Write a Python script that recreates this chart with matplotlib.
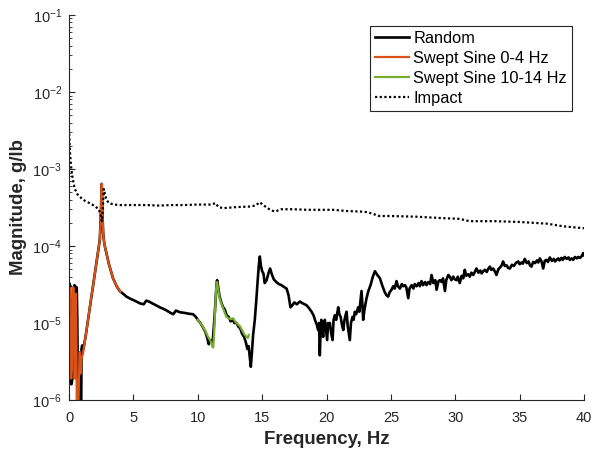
import matplotlib
matplotlib.use('Agg')
import matplotlib.pyplot as plt

plt.rcParams['font.family'] = ['Liberation Sans', 'DejaVu Sans']
plt.rcParams['mathtext.default'] = 'regular'

# Random excitation FRF
random_freq = [0.00, 0.02, 0.05, 0.08, 0.11, 0.14, 0.18, 0.22, 0.26, 0.30, 0.34, 0.38, 0.42, 0.46, 0.50,
               0.55, 0.60, 0.64, 0.68, 0.72, 0.76, 0.80, 0.88, 0.94, 0.97, 1.02, 1.08, 1.12,
               1.3, 1.5, 1.7, 1.9, 2.1, 2.3, 2.39, 2.46, 2.51, 2.54, 2.57, 2.61, 2.66, 2.75, 2.9, 3.1,
               3.42, 3.7, 3.94, 4.2, 4.46, 4.8, 5.1, 5.5, 5.8, 6.0, 6.2, 6.6, 7.05, 7.5, 7.9, 8.1, 8.3,
               8.6, 9.0, 9.3, 9.63, 9.85, 10.0, 10.2, 10.4, 10.6, 10.75, 10.85, 10.95, 11.06, 11.15,
               11.25, 11.35, 11.45, 11.5, 11.6, 11.7, 11.85, 11.97, 12.1, 12.25, 12.4, 12.55, 12.7,
               12.85, 13.0, 13.15, 13.3, 13.45, 13.6, 13.75, 13.85, 13.95, 14.05, 14.12, 14.2, 14.3,
               14.43, 14.55, 14.65, 14.75, 14.82, 14.9, 15.0, 15.1, 15.2, 15.35, 15.5, 15.62, 15.75,
               15.9, 16.1, 16.3, 16.5, 16.75, 16.9, 17.05, 17.2, 17.35, 17.5, 17.7, 17.93, 18.15,
               18.45, 18.65, 18.84, 19.0, 19.1, 19.25, 19.35, 19.42, 19.48, 19.55, 19.6, 19.68, 19.74,
               19.8, 19.87, 19.95, 20.05, 20.12, 20.2, 20.26, 20.35, 20.47, 20.55, 20.65, 20.75, 20.85,
               20.91, 21.0, 21.1, 21.2, 21.3, 21.4, 21.5, 21.56, 21.65, 21.75, 21.81, 21.9, 22.02,
               22.1, 22.2, 22.3, 22.46, 22.55, 22.65, 22.72, 22.8, 22.85, 22.95, 23.11, 23.25, 23.42,
               23.6, 23.76, 23.95, 24.15, 24.35, 24.53, 24.65, 24.79, 24.9, 25.05, 25.18, 25.3, 25.44,
               25.55, 25.7, 25.85, 25.95, 26.09, 26.2, 26.35, 26.45, 26.61, 26.75, 26.85, 27.0, 27.15,
               27.25, 27.38, 27.5, 27.65, 27.77, 27.9, 28.05, 28.16, 28.3, 28.45, 28.55, 28.7, 28.81,
               28.95, 29.05, 29.2, 29.3, 29.46, 29.58, 29.7, 29.85, 29.95, 30.1, 30.2, 30.35, 30.5,
               30.62, 30.74, 30.85, 31.0, 31.13, 31.25, 31.4, 31.52, 31.65, 31.8, 31.95, 32.05, 32.17,
               32.3, 32.45, 32.55, 32.69, 32.8, 32.95, 33.1, 33.2, 33.35, 33.5, 33.6, 33.72, 33.85,
               34.0, 34.1, 34.24, 34.4, 34.55, 34.7, 34.89, 35.0, 35.15, 35.25, 35.4, 35.55, 35.7,
               35.8, 35.92, 36.05, 36.2, 36.35, 36.45, 36.57, 36.7, 36.83, 36.95, 37.1, 37.2, 37.35,
               37.5, 37.65, 37.75, 37.87, 38.0, 38.1, 38.25, 38.35, 38.5, 38.65, 38.8, 38.9, 39.05,
               39.16, 39.3, 39.45, 39.55, 39.7, 39.85, 39.94, 40.0]
random_mag = [1.0e-5, 3.3e-5, 2.9e-5, 3.1e-5, 1.4e-5, 2.0e-6, 1.6e-6, 1.7e-6, 1.9e-6, 2.3e-6, 2.6e-5, 2.2e-5, 3.1e-5, 2.5e-5, 3.0e-5,
              2.7e-5, 2.9e-5, 1.2e-5, 2.2e-6, 1.9e-6, 3.0e-6, 6e-7, 5e-7, 5e-7, 4.6e-6, 5.1e-6, 5.0e-6, 4.6e-6,
              6.9e-6, 1.17e-5, 2.0e-5, 3.3e-5, 5.6e-5, 9.5e-5, 1.2e-4, 2.2e-4, 4.2e-4, 6.4e-4, 4.0e-4, 2.2e-4, 1.4e-4, 1.05e-4, 8.1e-5, 5.8e-5,
              3.8e-5, 3.0e-5, 2.6e-5, 2.4e-5, 2.2e-5, 2.05e-5, 1.95e-5, 1.8e-5, 1.75e-5, 1.95e-5, 1.9e-5, 1.75e-5, 1.6e-5, 1.48e-5, 1.35e-5, 1.3e-5, 1.45e-5,
              1.38e-5, 1.35e-5, 1.32e-5, 1.3e-5, 1.2e-5, 1.1e-5, 1.0e-5, 8.8e-6, 7.6e-6, 6.3e-6, 5.3e-6, 6.0e-6, 5.8e-6, 5.5e-6,
              9e-6, 1.6e-5, 3.0e-5, 3.6e-5, 2.8e-5, 2.2e-5, 1.8e-5, 1.6e-5, 1.5e-5, 1.25e-5, 1.2e-5, 1.05e-5, 1.1e-5,
              1.0e-5, 1.0e-5, 9.0e-6, 8.5e-6, 7.2e-6, 6.6e-6, 5.5e-6, 4.6e-6, 5.0e-6, 3.5e-6, 2.7e-6, 4.0e-6, 7.0e-6,
              1.1e-5, 2.0e-5, 3.5e-5, 5.8e-5, 7.3e-5, 5.6e-5, 4.7e-5, 4.4e-5, 3.3e-5, 3.6e-5, 4.5e-5, 5.1e-5, 4.3e-5,
              3.7e-5, 3.4e-5, 3.2e-5, 3.1e-5, 2.9e-5, 2.8e-5, 2.3e-5, 1.6e-5, 1.7e-5, 1.85e-5, 1.75e-5, 1.9e-5, 1.8e-5,
              1.7e-5, 1.55e-5, 1.4e-5, 1.25e-5, 1.1e-5, 9.5e-6, 8.1e-6, 1.0e-5, 3.8e-6, 9.0e-6, 1.1e-5, 8.0e-6, 6.6e-6,
              9.5e-6, 1.1e-5, 8.5e-6, 6.0e-6, 1.0e-5, 9.0e-6, 1.0e-5, 7.5e-6, 6.0e-6, 1.1e-5, 1.26e-5, 1.1e-5, 1.4e-5,
              1.6e-5, 1.3e-5, 1.2e-5, 9.5e-6, 8.1e-6, 1.1e-5, 1.3e-5, 1.4e-5, 9.0e-6, 7.0e-6, 6.0e-6, 1.0e-5, 1.2e-5,
              1.1e-5, 1.4e-5, 1.3e-5, 1.6e-5, 1.4e-5, 2.0e-5, 2.6e-5, 1.6e-5, 1.1e-5, 1.5e-5, 2.1e-5, 2.6e-5, 3.1e-5,
              4.0e-5, 4.7e-5, 4.2e-5, 3.8e-5, 3.0e-5, 2.5e-5, 2.3e-5, 2.2e-5, 2.5e-5, 2.7e-5, 3.0e-5, 2.8e-5, 3.5e-5,
              3.0e-5, 2.8e-5, 3.2e-5, 3.0e-5, 3.1e-5, 2.9e-5, 2.1e-5, 2.8e-5, 3.1e-5, 2.8e-5, 3.2e-5, 3.0e-5, 3.3e-5,
              3.0e-5, 3.5e-5, 3.1e-5, 3.4e-5, 3.1e-5, 3.4e-5, 3.2e-5, 4.2e-5, 3.3e-5, 3.6e-5, 2.7e-5, 3.5e-5, 3.6e-5,
              3.4e-5, 3.8e-5, 2.6e-5, 3.6e-5, 4.2e-5, 4.0e-5, 3.6e-5, 4.0e-5, 3.7e-5, 3.6e-5, 4.0e-5, 3.3e-5, 4.1e-5,
              3.8e-5, 4.9e-5, 4.1e-5, 4.3e-5, 4.0e-5, 4.5e-5, 4.2e-5, 4.6e-5, 5.1e-5, 4.5e-5, 4.8e-5, 4.4e-5, 4.7e-5,
              4.9e-5, 4.6e-5, 5.0e-5, 5.4e-5, 4.9e-5, 5.1e-5, 4.6e-5, 4.2e-5, 5.0e-5, 5.3e-5, 5.6e-5, 6.3e-5, 5.5e-5,
              5.6e-5, 5.2e-5, 5.1e-5, 5.7e-5, 5.5e-5, 6.0e-5, 6.3e-5, 5.8e-5, 6.1e-5, 5.9e-5, 6.8e-5, 6.0e-5, 6.3e-5,
              5.6e-5, 5.4e-5, 6.2e-5, 6.0e-5, 6.5e-5, 6.1e-5, 6.9e-5, 6.3e-5, 5.1e-5, 6.4e-5, 6.6e-5, 6.2e-5, 7.1e-5,
              6.4e-5, 6.8e-5, 6.3e-5, 6.6e-5, 6.9e-5, 6.5e-5, 7.0e-5, 6.6e-5, 7.2e-5, 6.8e-5, 7.1e-5, 6.6e-5, 6.9e-5,
              6.6e-5, 7.2e-5, 6.9e-5, 7.2e-5, 7.0e-5, 7.5e-5, 8.1e-5, 7.6e-5]

# swept sine 0-4 Hz
sweep1_freq = [0.00, 0.02, 0.05, 0.08, 0.11, 0.14, 0.18, 0.22, 0.26, 0.30, 0.34, 0.38, 0.42, 0.46, 0.50,
               0.54, 0.57, 0.60, 0.66, 0.72, 0.76, 0.80, 0.84, 0.88, 0.92, 0.96, 1.00, 1.09,
               1.3, 1.5, 1.7, 1.9, 2.1, 2.3, 2.39, 2.46, 2.51, 2.54, 2.57, 2.61, 2.66, 2.75, 2.9, 3.1,
               3.42, 3.7, 4.0]
sweep1_mag = [1.2e-5, 2.9e-5, 2.6e-5, 2.4e-5, 5e-6, 2.0e-6, 1.9e-6, 2.5e-6, 1.0e-5, 2.6e-5, 2.9e-5, 2.4e-5, 2.0e-6, 1.9e-6, 1.0e-5,
              2.4e-5, 8e-6, 9e-7, 6e-7, 7e-7, 1.5e-6, 3.0e-6, 4.2e-6, 2.2e-6, 2.6e-6, 3.4e-6, 3.6e-6, 4.0e-6,
              6.9e-6, 1.17e-5, 2.0e-5, 3.3e-5, 5.6e-5, 9.5e-5, 1.2e-4, 2.2e-4, 4.2e-4, 6.4e-4, 4.0e-4, 2.2e-4, 1.4e-4, 1.05e-4, 8.1e-5, 5.8e-5,
              3.8e-5, 3.0e-5, 2.55e-5]

# swept sine 10-14 Hz
sweep2_freq = [10.0, 10.3, 10.6, 10.8, 11.0, 11.12, 11.2, 11.27, 11.35, 11.43, 11.5, 11.58, 11.7, 11.85,
               11.97, 12.1, 12.23, 12.4, 12.55, 12.75, 12.9, 13.05, 13.27, 13.45, 13.65, 13.8, 13.9, 13.96]
sweep2_mag = [1.1e-5, 9.5e-6, 7.8e-6, 6.6e-6, 5.8e-6, 5.0e-6, 4.8e-6, 7.5e-6, 1.5e-5, 2.8e-5, 3.4e-5, 2.8e-5, 2.1e-5, 1.75e-5,
              1.55e-5, 1.35e-5, 1.2e-5, 1.15e-5, 1.12e-5, 1.15e-5, 1.05e-5, 9.8e-6, 9.1e-6, 8.0e-6, 7.0e-6, 6.6e-6, 6.4e-6, 7.0e-6]

# impact hammer
impact_freq = [0.00, 0.04, 0.08, 0.13, 0.18, 0.25, 0.31, 0.4, 0.5, 0.65, 0.83, 1.0, 1.3, 1.6, 2.0, 2.3, 2.45,
               2.55, 2.62, 2.7, 2.78, 2.9, 3.1, 3.5, 4.0, 5.0, 6.0, 7.0, 8.0, 9.0, 10.0, 11.0, 11.4, 11.6,
               12.0, 12.5, 13.0, 14.0, 14.5, 14.8, 15.0, 15.3, 15.7, 16.0, 16.5, 17.4, 18.5, 19.5, 20.5,
               21.5, 22.6, 23.2, 24.1, 25.0, 27.0, 29.0, 30.35, 31.1, 33.0, 35.0, 37.1, 38.4, 40.0]
impact_mag = [3.3e-3, 2.2e-3, 1.6e-3, 1.25e-3, 1.0e-3, 8.2e-4, 7.2e-4, 6.0e-4, 5.3e-4, 4.7e-4, 4.4e-4, 4.1e-4, 3.8e-4, 3.6e-4, 3.3e-4, 3.0e-4, 2.6e-4,
              2.1e-4, 3.0e-4, 5.5e-4, 4.8e-4, 4.0e-4, 3.6e-4, 3.45e-4, 3.4e-4, 3.4e-4, 3.4e-4, 3.35e-4, 3.4e-4, 3.4e-4, 3.45e-4, 3.45e-4, 3.6e-4, 3.2e-4,
              3.1e-4, 3.15e-4, 3.2e-4, 3.25e-4, 3.35e-4, 3.7e-4, 3.5e-4, 3.2e-4, 2.9e-4, 2.8e-4, 3.0e-4, 3.0e-4, 2.95e-4, 2.95e-4, 2.95e-4,
              2.85e-4, 2.8e-4, 2.75e-4, 2.45e-4, 2.45e-4, 2.4e-4, 2.3e-4, 2.25e-4, 2.1e-4, 2.1e-4, 2.05e-4, 1.95e-4, 1.8e-4, 1.7e-4]

fig = plt.figure(figsize=(5.95, 4.51), dpi=100)
ax = fig.add_axes([0.116, 0.1131, 0.8655, 0.8537])

ax.plot(random_freq, random_mag, color='black', lw=1.9, label='Random')
ax.plot(sweep1_freq, sweep1_mag, color='#D95319', lw=1.6, label='Swept Sine 0-4 Hz')
ax.plot(sweep2_freq, sweep2_mag, color='#77AC30', lw=1.6, label='Swept Sine 10-14 Hz')
ax.plot(impact_freq, impact_mag, color='black', lw=1.6, linestyle=(0, (1, 1.1)), label='Impact')

ax.set_yscale('log')
ax.set_xlim(0, 40)
ax.set_ylim(1e-6, 1e-1)
ax.set_xticks([0, 5, 10, 15, 20, 25, 30, 35, 40])

for s in ['top', 'right']:
    ax.spines[s].set_visible(False)
for s in ['left', 'bottom']:
    ax.spines[s].set_color('#262626')
    ax.spines[s].set_linewidth(0.8)

ax.tick_params(which='both', direction='in', colors='#262626', labelsize=10.5)
ax.tick_params(which='major', length=4, width=0.8)
ax.tick_params(which='minor', length=2.2, width=0.6)
ax.tick_params(axis='x', pad=8)
ax.tick_params(axis='y', pad=5)

ax.set_xlabel('Frequency, Hz', fontsize=13.4, fontweight='bold', color='#262626', labelpad=4)
ax.set_ylabel('Magnitude, g/lb', fontsize=13.4, fontweight='bold', color='#262626', labelpad=4)

leg = ax.legend(loc='upper right', bbox_to_anchor=(0.9767, 0.9714), borderaxespad=0,
                fontsize=11.8, handlelength=2.1, handletextpad=0.25, labelspacing=0.3,
                borderpad=0.3, fancybox=False, framealpha=1, edgecolor='#262626')
leg.get_frame().set_linewidth(0.8)

fig.savefig('out.png', dpi=100)
